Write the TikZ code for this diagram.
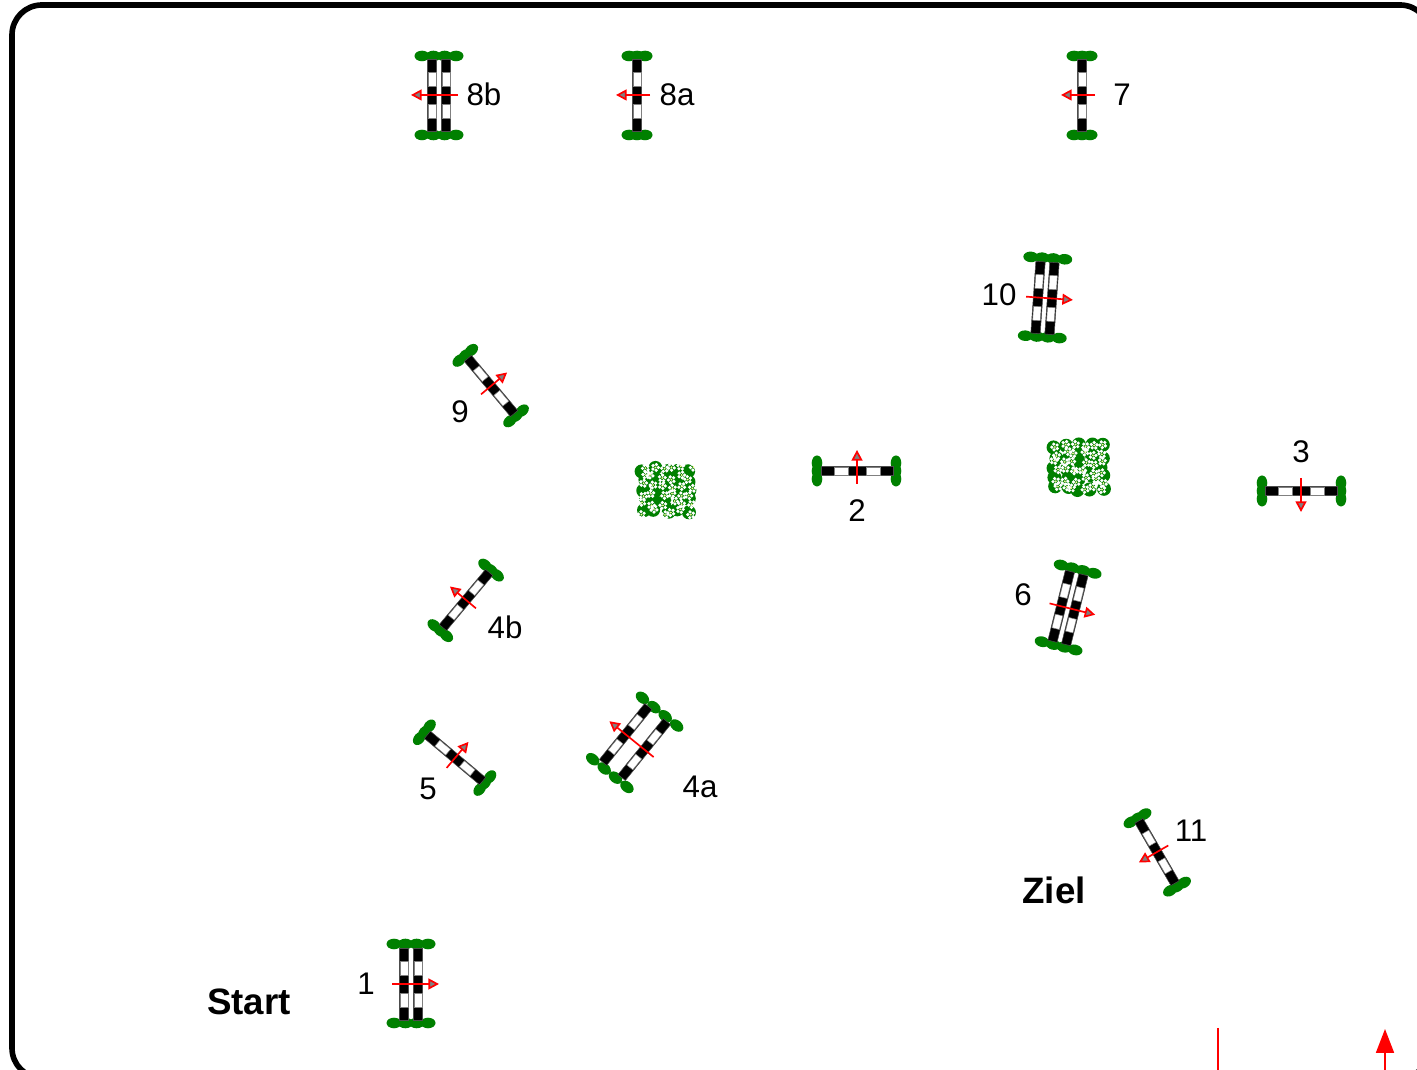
\documentclass[tikz,border=0pt]{standalone}
\usepackage{fontspec}
\setmainfont{Liberation Sans}
\usepackage{xcolor}
\usetikzlibrary{arrows.meta}
\definecolor{leafgreen}{RGB}{0,128,0}
\tikzstyle{hurdlelabel} = [inner sep=0pt, font=\fontsize{17.8}{20}\selectfont]
\tikzstyle{courselabel} = [inner sep=0pt, font=\fontsize{20.9}{24}\selectfont\bfseries]
\tikzstyle{jumparrow} = [red, line width=0.95pt, -{Triangle[fill=gray,length=6pt,width=6.2pt]}]
\tikzstyle{gatearrow} = [red, line width=1.1pt, -{Triangle[length=13.6pt,width=10.2pt]}]
\tikzstyle{gateline} = [red, line width=1.1pt]
% hedges at both ends of a jump
\newcommand{\jumphedge}[1]{
    \foreach \sx in {-40,39} \foreach \sy in {#1}
        \fill[leafgreen] ({\sx},{\sy}) circle [x radius=5.3, y radius=7.5];
}
% one pole, offset from the middle of the jump
\newcommand{\jumpbar}[1]{
    \draw[black!70, fill=black, line width=0.3pt] (-36,#1-4.7) rectangle (36,#1+4.7);
    \draw[gray, fill=white, line width=0.3pt] (-23,#1-3.8) rectangle (-9,#1+3.8);
    \draw[gray, fill=white, line width=0.3pt] (9,#1-3.8) rectangle (23,#1+3.8);
}
\newcommand{\jumpdir}[2]{
    \coordinate (tail) at (0,{-(#2)});
    \coordinate (tip) at (0,{#1});
    \draw[jumparrow] (tail) -- (tip);
}
\tikzset{
    single/.pic={\jumphedge{-8,0,8} \jumpbar{0} \jumpdir{21}{13}},
    oxer/.pic={
        \jumphedge{-1*(#1+10),-0.33*(#1+10),0.33*(#1+10),1*(#1+10)}
        \jumpbar{-#1} \jumpbar{#1} \jumpdir{#1+21}{#1+12}
    },
    bush/.pic={
        \foreach \i in {-2,...,2} \foreach \j in {-2,...,2}
            \fill[leafgreen] ({\i*11.5+2.5*rand},{\j*10.5+2.5*rand}) circle (7);
        \foreach \i in {-2.5,...,2.5} \foreach \j in {-2.5,...,2.5}{
            \pgfmathsetmacro{\fx}{\i*9.4+3*rand}
            \pgfmathsetmacro{\fy}{\j*8.8+3*rand}
            \foreach \a in {0,72,...,288}
                \fill[white] (\fx,\fy) ++(\a+\i*30+\j*17:3) circle (1.8);
            \fill[yellow!40!white] (\fx,\fy) circle (1);
        }
    }
}
\begin{document}
\begin{tikzpicture}[x=0.02cm,y=0.02cm]
    \useasboundingbox (0,0) rectangle (1417,1070);
    \pgfmathsetseed{4711}

    % Arena border
    \draw[line width=3.2pt, rounded corners=17pt] (12,1065) rectangle (1430,-8);

    % Jumps
    \pic[rotate=-90] (jumpOne) at (411,86) {oxer=7};
    \pic (jumpTwo) at (857,599) {single};
    \pic[rotate=180] (jumpThree) at (1301,579) {single};
    \pic[rotate=51] (jumpFourA) at (635,328) {oxer=12};
    \pic[rotate=50] (jumpFourB) at (466,470) {single};
    \pic[rotate=-40] (jumpFive) at (455,312) {single};
    \pic[rotate=-104] (jumpSix) at (1068,462) {oxer=7};
    \pic[rotate=90] (jumpSeven) at (1082,975) {single};
    \pic[rotate=90] (jumpEightA) at (637,975) {single};
    \pic[rotate=90] (jumpEightB) at (439,975) {oxer=7};
    \pic[rotate=-50] (jumpNine) at (491,684) {single};
    \pic[rotate=-94] (jumpTen) at (1045,772) {oxer=7};
    \pic[rotate=120] (jumpEleven) at (1157,218) {single};

    % Bushes
    \pic (bushLeft) at (667,580) {bush};
    \pic (bushRight) at (1079,603) {bush};

    % Jump numbers
    \node[hurdlelabel] (labelOne) at (366,86) {1};
    \node[hurdlelabel] (labelTwo) at (857,559) {2};
    \node[hurdlelabel] (labelThree) at (1301,618) {3};
    \node[hurdlelabel] (labelFourA) at (700,283) {4a};
    \node[hurdlelabel] (labelFourB) at (505,443) {4b};
    \node[hurdlelabel] (labelFive) at (428,281) {5};
    \node[hurdlelabel] (labelSix) at (1023,475) {6};
    \node[hurdlelabel] (labelSeven) at (1122,975) {7};
    \node[hurdlelabel] (labelEightA) at (677,975) {8a};
    \node[hurdlelabel] (labelEightB) at (484,976) {8b};
    \node[hurdlelabel] (labelNine) at (460,658) {9};
    \node[hurdlelabel] (labelTen) at (999,775) {10};
    \node[hurdlelabel] (labelEleven) at (1191,239) {11};

    % Start and finish
    \node[courselabel] (start) at (249,68) {Start};
    \node[courselabel] (ziel) at (1054,180) {Ziel};

    % Entry marks on the lower edge
    \coordinate (markTop) at (1218,42);
    \coordinate (markEnd) at (1218,-5);
    \coordinate (gateTip) at (1385,41);
    \coordinate (gateEnd) at (1385,-5);
    \draw[gateline] (markTop) -- (markEnd);
    \draw[gatearrow] (gateEnd) -- (gateTip);
\end{tikzpicture}
\end{document}
